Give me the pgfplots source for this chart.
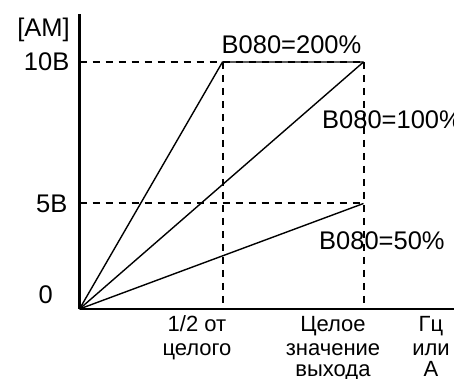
\documentclass[border=0pt]{standalone}
\usepackage{fontspec}
\setmainfont{Liberation Sans}
\usepackage{pgfplots}
\pgfplotsset{compat=1.18}
\tikzset{
  big/.style={font=\fontsize{25.5bp}{30bp}\selectfont, inner sep=0pt},
  small/.style={font=\fontsize{22bp}{26bp}\selectfont, inner sep=0pt, anchor=base},
  dsh/.style={black, line width=2bp, dash pattern=on 7.5bp off 5.5bp},
  sol/.style={black, line width=1.4bp},
}
\begin{document}
\begin{tikzpicture}
\begin{axis}[
  scale only axis, width=374.5bp, height=295bp,
  xmin=0, xmax=374.5, ymin=0, ymax=295,
  axis x line*=bottom, axis y line*=left,
  axis line style={-, line width=2.8bp},
  xtick=\empty, ytick=\empty,
  clip=false, no marks,
]
% dashed guides
\addplot[dsh] coordinates {(0,247) (284,247)};
\addplot[dsh] coordinates {(0,105.5) (284,105.5)};
\addplot[dsh] coordinates {(143,247) (143,0)};
\addplot[dsh] coordinates {(284,247) (284,0)};
% characteristic lines
\addplot[sol] coordinates {(0,0) (143,247) (284,247)};
\addplot[sol] coordinates {(0,0) (284,247)};
\addplot[sol] coordinates {(0,0) (284,105.5)};
% labels
\node[big, anchor=east] at (axis cs:-9.5,279) {[AM]};
\node[big, anchor=east] at (axis cs:-10,247) {10B};
\node[big, anchor=east] at (axis cs:-12,105.5) {5B};
\node[big, anchor=east] at (axis cs:-26.5,14) {0};
\node[big] at (axis cs:212,264.5) {B080=200\%};
\node[big, anchor=west] at (axis cs:242.5,189) {B080=100\%};
\node[big, anchor=west] at (axis cs:239.5,68.5) {B080=50\%};
\node[small] at (axis cs:117.5,-22) {1/2 от};
\node[small] at (axis cs:117.5,-46) {целого};
\node[small] at (axis cs:253.5,-22) {Целое};
\node[small] at (axis cs:253.5,-46) {значение};
\node[small] at (axis cs:253.5,-67) {выхода};
\node[small] at (axis cs:351.5,-22) {Гц};
\node[small] at (axis cs:351.5,-46) {или};
\node[small] at (axis cs:351.5,-67) {А};
\end{axis}
\pgfresetboundingbox
\path[use as bounding box] (-79.5bp,-70bp) rectangle (374.5bp,309bp);
\end{tikzpicture}
\end{document}
